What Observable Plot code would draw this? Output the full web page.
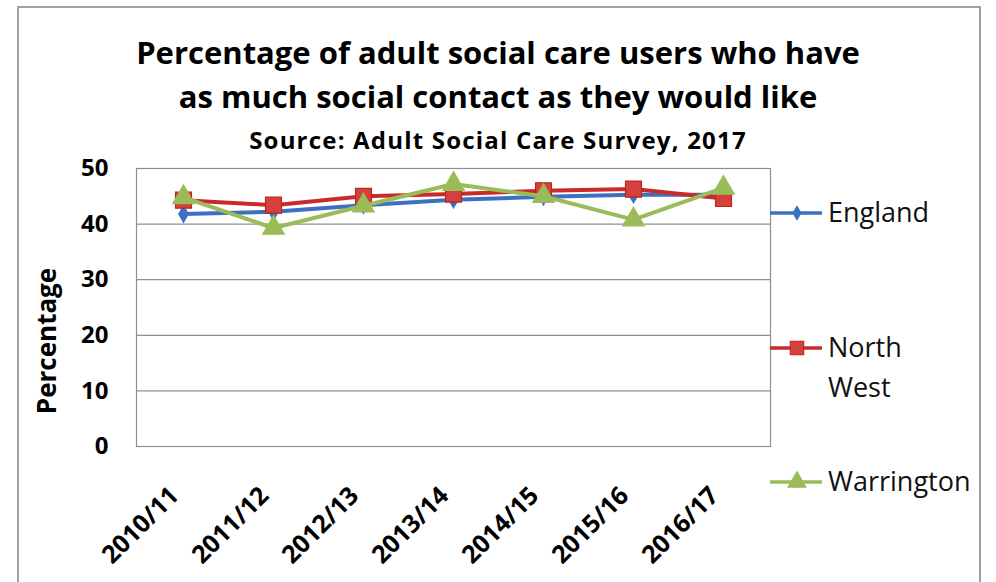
<!DOCTYPE html>
<html>
<head>
<meta charset="utf-8">
<script src="https://cdn.jsdelivr.net/npm/d3@7"></script>
<script src="https://cdn.jsdelivr.net/npm/@observablehq/plot@0.6"></script>
<style>
  html, body { margin: 0; padding: 0; background: #fff; }
  body { width: 996px; height: 582px; position: relative; overflow: hidden; font-family: "Open Sans", sans-serif; }
  #box { position: absolute; left: 17px; top: 6px; width: 964px; height: 590px; border: 2px solid #a0a0a0; box-sizing: border-box; }
  .t { position: absolute; left: 0; width: 996px; text-align: center; font-weight: bold; color: #000; white-space: nowrap; line-height: 42px; }
  #chart { position: absolute; left: 0; top: 0; }
  #ylab { position: absolute; left: 46px; top: 341px; transform: translate(-50%, -50%) rotate(-90deg); font-weight: bold; font-size: 26px; white-space: nowrap; }
  .leg { position: absolute; font-size: 27px; color: #111; line-height: 40px; }
  .legsym { position: absolute; }
</style>
</head>
<body>
<div id="box"></div>
<div class="t" style="top:31px;font-size:31px;">Percentage of adult social care users who have</div>
<div class="t" style="top:75px;font-size:31px;">as much social contact as they would like</div>
<div class="t" style="top:119px;font-size:24px;letter-spacing:1.2px;">Source: Adult Social Care Survey, 2017</div>
<div id="chart"></div>
<div id="ylab">Percentage</div>
<div id="legend"></div>
<script>
const categories = ["2010/11", "2011/12", "2012/13", "2013/14", "2014/15", "2015/16", "2016/17"];
const england    = [41.8, 42.2, 43.4, 44.4, 44.9, 45.3, 45.3];
const northWest  = [44.3, 43.4, 45.0, 45.4, 46.0, 46.3, 44.6];
const warrington = [44.8, 39.3, 43.3, 47.2, 45.0, 40.8, 46.5];
const seriesNames = ["England", "North West", "Warrington"];
const yTicks = [0, 10, 20, 30, 40, 50];

const colors = { England: "#3b70c2", "North West": "#c92a2a", Warrington: "#9bbb59" };
const symbols = { England: "diamond", "North West": "square", Warrington: "triangle" };
const sizes = { England: 5, "North West": 9, Warrington: 8 };
const fills = { England: "#3b70c2", "North West": "#d53f3c", Warrington: "#9bbb59" };

const table = [];
[england, northWest, warrington].forEach((vals, i) => {
  vals.forEach((v, j) => table.push({ series: seriesNames[i], year: categories[j], value: v }));
});

const marks = [
  Plot.gridY(yTicks, { stroke: "#8f8f8f", strokeOpacity: 1, strokeWidth: 1.2 }),
  Plot.frame({ stroke: "#8f8f8f", strokeWidth: 1.2 }),
  Plot.axisY(yTicks, { tickSize: 0, tickPadding: 28, fontSize: 24, fontWeight: "bold", fill: "#000", label: null }),
  Plot.axisX({ tickSize: 0, tickRotate: -45, tickPadding: 45, fontSize: 25, fontWeight: "bold", fill: "#000", label: null, dx: -9 })
];
for (const s of seriesNames) {
  const d = table.filter(r => r.series === s);
  marks.push(Plot.line(d, { x: "year", y: "value", stroke: colors[s], strokeWidth: 4 }));
  marks.push(Plot.dot(d, { x: "year", y: "value", symbol: () => symbols[s], r: sizes[s], fill: fills[s], stroke: s === "North West" ? "#b82525" : fills[s], strokeWidth: 1.2 }));
}

const chart = Plot.plot({
  width: 996,
  height: 582,
  marginTop: 168,
  marginBottom: 136,
  marginLeft: 136,
  marginRight: 226,
  style: { fontFamily: "Open Sans, sans-serif", background: "transparent", overflow: "visible" },
  x: { type: "point", domain: categories, padding: 0.5 },
  y: { domain: [0, 50] },
  symbol: { type: "identity" },
  marks
});
document.getElementById("chart").appendChild(chart);

// Legend
const legend = document.getElementById("legend");
const legItems = [
  { name: "England", lines: ["England"], y: 213 },
  { name: "North West", lines: ["North", "West"], y: 348 },
  { name: "Warrington", lines: ["Warrington"], y: 482 }
];
const ns = "http://www.w3.org/2000/svg";
for (const it of legItems) {
  const svg = document.createElementNS(ns, "svg");
  svg.setAttribute("width", 56); svg.setAttribute("height", 24);
  svg.setAttribute("class", "legsym");
  svg.style.left = "768px"; svg.style.top = (it.y - 12) + "px";
  const ln = document.createElementNS(ns, "line");
  ln.setAttribute("x1", 2); ln.setAttribute("x2", 54); ln.setAttribute("y1", 12); ln.setAttribute("y2", 12);
  ln.setAttribute("stroke", colors[it.name]); ln.setAttribute("stroke-width", 3.5);
  svg.appendChild(ln);
  const p = document.createElementNS(ns, "path");
  const sym = { diamond: d3.symbolDiamond, square: d3.symbolSquare, triangle: d3.symbolTriangle }[symbols[it.name]];
  const r = sizes[it.name] * 0.85;
  p.setAttribute("d", d3.symbol(sym, Math.PI * r * r)());
  p.setAttribute("transform", "translate(29,12)");
  p.setAttribute("fill", fills[it.name]);
  p.setAttribute("stroke", it.name === "North West" ? "#b82525" : fills[it.name]);
  svg.appendChild(p);
  legend.appendChild(svg);
  const div = document.createElement("div");
  div.className = "leg";
  div.style.left = "828px";
  div.style.top = (it.y - 21) + "px";
  div.innerHTML = it.lines.join("<br>");
  legend.appendChild(div);
}
</script>
</body>
</html>
